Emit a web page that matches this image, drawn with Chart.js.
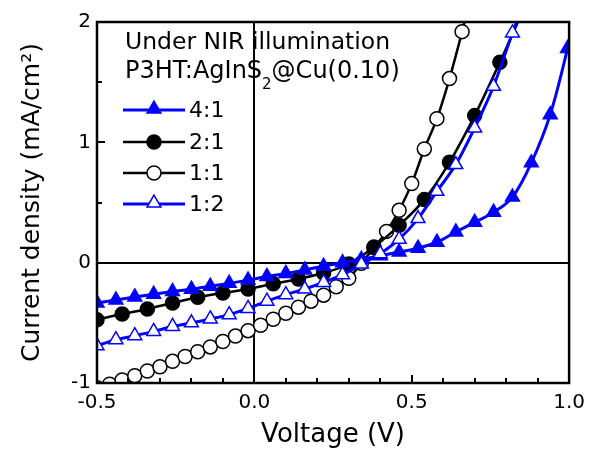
<!DOCTYPE html>
<html><head><meta charset="utf-8">
<script src="https://cdn.jsdelivr.net/npm/chart.js@4"></script>
<style>html,body{margin:0;padding:0;background:#fff}</style>
</head><body>
<canvas id="c" width="593" height="451"></canvas>
<script>
// ---- data ----
const xTicks = [-0.5, 0.0, 0.5, 1.0];
const yTicks = [-1, 0, 1, 2];
const seriesNames = ['4:1', '2:1', '1:1', '1:2'];
const titleLine1 = 'Under NIR illumination';
const titleLine2 = ['P3HT:AgInS', '2', '@Cu(0.10)'];

const v41 = [-0.50,-0.44,-0.38,-0.32,-0.26,-0.20,-0.14,-0.08,-0.02,0.04,0.10,0.16,0.22,0.28,0.34,0.40,0.46,0.52,0.58,0.64,0.70,0.76,0.82,0.88,0.94,0.995,1.03];
const j41 = [-0.335,-0.31,-0.285,-0.262,-0.24,-0.22,-0.196,-0.172,-0.145,-0.115,-0.09,-0.06,-0.03,0.0,0.028,0.058,0.088,0.12,0.17,0.255,0.335,0.42,0.545,0.83,1.23,1.78,2.2];

const v21 = [-0.50,-0.42,-0.34,-0.26,-0.18,-0.10,-0.02,0.06,0.14,0.22,0.30,0.38,0.46,0.54,0.62,0.70,0.78,0.86];
const j21 = [-0.474,-0.427,-0.385,-0.335,-0.288,-0.252,-0.219,-0.175,-0.135,-0.086,-0.011,0.13,0.31,0.524,0.834,1.222,1.665,2.13];

const v11 = [-0.50,-0.46,-0.42,-0.38,-0.34,-0.30,-0.26,-0.22,-0.18,-0.14,-0.10,-0.06,-0.02,0.02,0.06,0.10,0.14,0.18,0.22,0.26,0.30,0.34,0.38,0.42,0.46,0.50,0.54,0.58,0.62,0.66,0.70];
const j11 = [-1.04,-1.01,-0.975,-0.94,-0.90,-0.865,-0.82,-0.78,-0.74,-0.70,-0.655,-0.61,-0.565,-0.52,-0.47,-0.42,-0.37,-0.32,-0.27,-0.20,-0.13,-0.005,0.125,0.26,0.435,0.657,0.945,1.197,1.53,1.92,2.35];

const v12 = [-0.50,-0.44,-0.38,-0.32,-0.26,-0.20,-0.14,-0.08,-0.02,0.04,0.10,0.16,0.22,0.28,0.34,0.40,0.46,0.52,0.58,0.64,0.70,0.76,0.82,0.88];
const j12 = [-0.69,-0.64,-0.607,-0.571,-0.53,-0.50,-0.468,-0.432,-0.38,-0.32,-0.266,-0.219,-0.164,-0.10,-0.012,0.075,0.195,0.366,0.593,0.815,1.12,1.466,1.909,2.33];

const BLUE = '#0000ff', BLACK = '#000000';
const FONT = 'DejaVu Sans';

function pts(v, j) { return v.map((x, i) => ({x: x, y: j[i]})); }

const styles = [
  {style: 'triangle', color: BLUE, fill: BLUE, r: 8, bw: 3, order: 1},
  {style: 'circle', color: BLACK, fill: BLACK, r: 7, bw: 2.5, order: 2},
  {style: 'circle', color: BLACK, fill: '#ffffff', r: 7, bw: 2.5, order: 3},
  {style: 'triangle', color: BLUE, fill: '#ffffff', r: 8, bw: 3, order: 0}
];
const seriesData = [pts(v41, j41), pts(v21, j21), pts(v11, j11), pts(v12, j12)];

const datasets = seriesNames.map((name, k) => ({
  label: name,
  data: seriesData[k],
  borderColor: styles[k].color,
  backgroundColor: styles[k].fill,
  borderWidth: styles[k].bw,
  pointStyle: styles[k].style,
  pointRadius: styles[k].r,
  pointBorderWidth: 1.5,
  pointBorderColor: styles[k].color,
  pointBackgroundColor: styles[k].fill,
  cubicInterpolationMode: 'monotone',
  fill: false,
  order: styles[k].order
}));

function drawMarker(ctx, st, x, y) {
  ctx.save();
  ctx.lineWidth = 1.5;
  ctx.strokeStyle = st.color;
  ctx.fillStyle = st.fill;
  ctx.beginPath();
  if (st.style === 'circle') {
    ctx.arc(x, y, st.r, 0, Math.PI * 2);
  } else {
    const r = st.r;
    ctx.moveTo(x, y - r);
    ctx.lineTo(x + r * Math.sin(2 * Math.PI / 3), y - r * Math.cos(2 * Math.PI / 3));
    ctx.lineTo(x + r * Math.sin(4 * Math.PI / 3), y - r * Math.cos(4 * Math.PI / 3));
    ctx.closePath();
  }
  ctx.fill();
  ctx.stroke();
  ctx.restore();
}

const decor = {
  id: 'decor',
  beforeDatasetsDraw(chart) {
    const {ctx, chartArea: a, scales: {x, y}} = chart;
    ctx.save();
    ctx.strokeStyle = BLACK;
    ctx.lineWidth = 2;
    ctx.beginPath();
    const y0 = Math.round(y.getPixelForValue(0)), x0 = Math.round(x.getPixelForValue(0));
    ctx.moveTo(a.left, y0); ctx.lineTo(a.right, y0);
    ctx.moveTo(x0, a.top); ctx.lineTo(x0, a.bottom);
    ctx.stroke();
    ctx.restore();
  },
  afterDraw(chart) {
    const {ctx, chartArea: a, scales: {x, y}} = chart;
    ctx.save();
    ctx.strokeStyle = BLACK;
    ctx.lineWidth = 2.5;
    ctx.strokeRect(a.left, a.top, a.right - a.left, a.bottom - a.top);
    // inward ticks
    ctx.lineWidth = 2;
    ctx.beginPath();
    for (let i = 0; i <= 15; i++) {
      const v = -0.5 + i * 0.1;
      const px = Math.round(x.getPixelForValue(v));
      const len = (i % 5 === 0) ? 8 : 5;
      ctx.moveTo(px, a.bottom); ctx.lineTo(px, a.bottom - len);
    }
    for (let i = 0; i <= 6; i++) {
      const v = -1 + i * 0.5;
      const py = Math.round(y.getPixelForValue(v));
      const len = (i % 2 === 0) ? 8 : 5;
      ctx.moveTo(a.left, py); ctx.lineTo(a.left + len, py);
    }
    ctx.stroke();

    // annotation text
    ctx.fillStyle = BLACK;
    ctx.textBaseline = 'alphabetic';
    ctx.textAlign = 'left';
    ctx.font = '23.5px "' + FONT + '"';
    ctx.fillText(titleLine1, 125, 49);
    let tx = 125;
    ctx.font = '24px "' + FONT + '"';
    ctx.fillText(titleLine2[0], tx, 78); tx += ctx.measureText(titleLine2[0]).width;
    ctx.font = '15px "' + FONT + '"';
    ctx.fillText(titleLine2[1], tx, 89); tx += ctx.measureText(titleLine2[1]).width;
    ctx.font = '24px "' + FONT + '"';
    ctx.fillText(titleLine2[2], tx, 78);

    // legend
    const rows = [110, 142, 173, 204];
    ctx.font = '22px "' + FONT + '"';
    ctx.textBaseline = 'middle';
    seriesNames.forEach((name, k) => {
      const st = styles[k];
      const ry = rows[k];
      ctx.strokeStyle = st.color;
      ctx.lineWidth = st.bw;
      ctx.beginPath();
      ctx.moveTo(123, ry); ctx.lineTo(185, ry);
      ctx.stroke();
      drawMarker(ctx, st, 154, st.style === 'triangle' ? ry - 1 : ry);
      ctx.fillStyle = BLACK;
      ctx.fillText(name, 189, ry + 1);
    });
    ctx.restore();
  }
};

new Chart(document.getElementById('c'), {
  type: 'line',
  data: {datasets: datasets},
  options: {
    responsive: false,
    animation: false,
    devicePixelRatio: 1,
    layout: {padding: {top: 22, right: 15, left: 0, bottom: 0}},
    plugins: {legend: {display: false}, tooltip: {enabled: false}},
    scales: {
      x: {
        type: 'linear', min: -0.5, max: 1.0,
        afterFit(s) { s.height = 68; },
        afterBuildTicks(s) { s.ticks = xTicks.map(v => ({value: v})); },
        grid: {display: false, drawTicks: false},
        border: {display: false},
        ticks: {padding: 8, color: BLACK, font: {family: FONT, size: 20}, callback: v => Number(v).toFixed(1), maxRotation: 0, autoSkip: false},
        title: {display: true, text: 'Voltage (V)', color: BLACK, font: {family: FONT, size: 26}, padding: {top: 0, bottom: 0}}
      },
      y: {
        type: 'linear', min: -1, max: 2,
        afterFit(s) { s.width = 97; },
        afterBuildTicks(s) { s.ticks = yTicks.map(v => ({value: v})); },
        grid: {display: false, drawTicks: false},
        border: {display: false},
        ticks: {padding: 6, color: BLACK, font: {family: FONT, size: 20}, callback: v => String(v), autoSkip: false},
        title: {display: true, text: 'Current density (mA/cm²)', color: BLACK, font: {family: FONT, size: 25}, padding: {top: 17, bottom: 0}}
      }
    }
  },
  plugins: [decor]
});
</script>
</body></html>
